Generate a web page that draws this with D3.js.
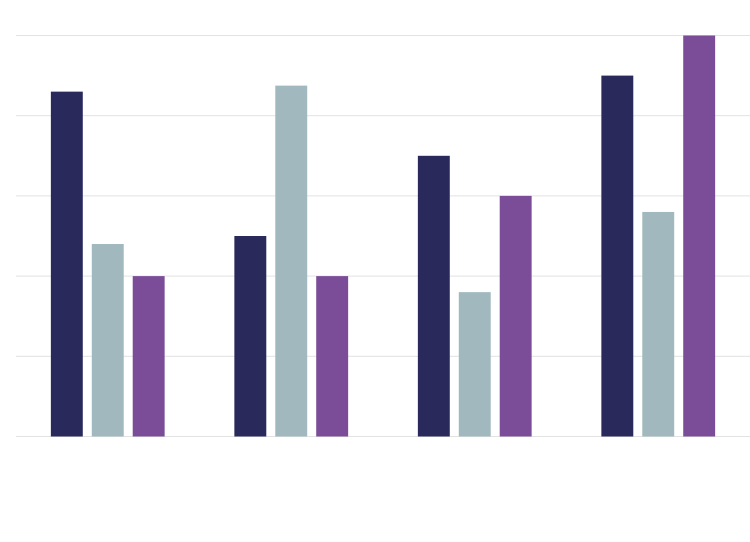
<!DOCTYPE html>
<html>
<head>
<meta charset="utf-8">
<script src="https://cdn.jsdelivr.net/npm/d3@7"></script>
<style>
  body { margin: 0; background: #fff; }
</style>
</head>
<body>
<div id="chart"></div>
<script>
// categories (no labels are shown in the chart)
const categories = ['Group 1', 'Group 2', 'Group 3', 'Group 4']
const seriesNames = ['Series A', 'Series B', 'Series C']

// values per series (axis 0-100)
const seriesA = [86, 50, 70, 90]
const seriesB = [48, 87.5, 36, 56]
const seriesC = [40, 40, 60, 100]

const yTicks = [0, 20, 40, 60, 80, 100]

const colors = ['#2a295c', '#a1b9be', '#7b4d98']

const width = 750
const height = 542
const margin = { top: 35.5, right: 0, bottom: 105.5, left: 16 }

const svg = d3
  .select('#chart')
  .append('svg')
  .attr('width', width)
  .attr('height', height)

const rows = categories.map((c, i) => ({
  category: c,
  values: [seriesA[i], seriesB[i], seriesC[i]]
}))

const x0 = d3.scaleBand()
  .domain(categories)
  .range([margin.left, width - margin.right])
  .paddingInner(0.38)
  .paddingOuter(0.19)

const x1 = d3.scaleBand()
  .domain(seriesNames)
  .range([0, x0.bandwidth()])
  .paddingInner(0.22)

const y = d3.scaleLinear()
  .domain([0, 100])
  .range([height - margin.bottom, margin.top])

const color = d3.scaleOrdinal().domain(seriesNames).range(colors)

// gridlines
svg.append('g')
  .selectAll('line')
  .data(yTicks)
  .enter()
  .append('line')
  .attr('x1', margin.left)
  .attr('x2', width)
  .attr('y1', d => y(d))
  .attr('y2', d => y(d))
  .attr('stroke', '#e2e2e2')
  .attr('stroke-width', 1)

// bars
svg.append('g')
  .selectAll('g')
  .data(rows)
  .enter()
  .append('g')
  .attr('transform', d => 'translate(' + x0(d.category) + ',0)')
  .selectAll('rect')
  .data(d => d.values.map((v, i) => ({ key: seriesNames[i], value: v })))
  .enter()
  .append('rect')
  .attr('x', d => x1(d.key))
  .attr('y', d => y(d.value))
  .attr('width', x1.bandwidth())
  .attr('height', d => y(0) - y(d.value))
  .attr('fill', d => color(d.key))
</script>
</body>
</html>
